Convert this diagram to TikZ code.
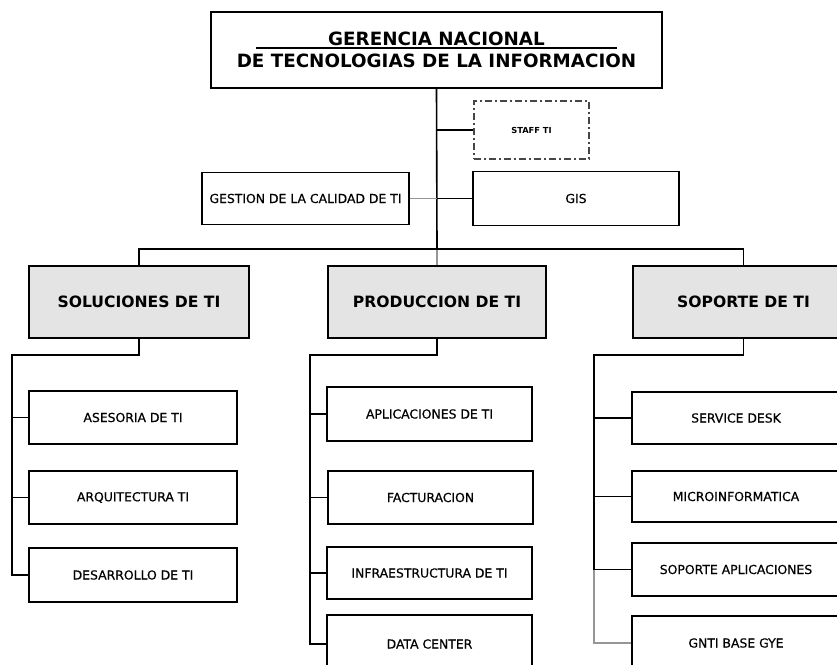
\documentclass[tikz,border=0pt]{standalone}
\usepackage{fontspec}
\setmainfont{DejaVu Sans}
\newfontfamily\unitfont[FakeBold=0.5]{DejaVu Sans}
\definecolor{headgray}{RGB}{228,228,228}
\definecolor{linkgray}{RGB}{150,150,150}
\definecolor{dashgray}{RGB}{70,70,70}
% centred text with a rule underneath spanning a fixed width
\newcommand\ulinebar[2]{\makebox[#1][c]{#2}\llap{\rule[-3.3pt]{#1}{1.5pt}}}
\begin{document}
\begin{tikzpicture}[x=1pt,y=-1pt,
  box/.style={draw=black, line width=1.8pt, rectangle, inner sep=0pt,
              align=center, text=black},
  unit/.style={box, font=\unitfont\fontsize{12.4}{14}\selectfont},
  head/.style={box, fill=headgray, font=\bfseries\fontsize{15.6}{18}\selectfont},
  link/.style={draw=black, line width=1.6pt},
  faint/.style={draw=linkgray, line width=1.6pt},
  wh/.style 2 args={minimum width=#1pt, minimum height=#2pt}
]
\useasboundingbox (0,0) rectangle (837,664);
\clip (0,0) rectangle (837,664);

% top management
\node[box, wh={451}{76}, font=\bfseries\fontsize{18.3}{22}\selectfont]
  (gen) at (436.5,50)
  {\ulinebar{361pt}{GERENCIA NACIONAL}\\DE TECNOLOGIAS DE LA INFORMACION};

% staff and support units
\node[box, wh={115}{58}, draw=dashgray,
      dash pattern=on 7pt off 3pt on 2pt off 3pt,
      font=\bfseries\fontsize{8.3}{9}\selectfont]
  (staff) at (531.5,130) {STAFF TI};
\node[unit, wh={207}{52}] (ges) at (305.5,198.5) {GESTION DE LA CALIDAD DE TI};
\node[unit, wh={206}{54}] (gis) at (576,198.5) {GIS};

% main areas
\node[head, wh={220}{72}] (sol)  at (139,302)   {SOLUCIONES DE TI};
\node[head, wh={218}{72}] (prod) at (437,302)   {PRODUCCION DE TI};
\node[head, wh={221}{72}] (sop)  at (743.5,302) {SOPORTE DE TI};

% soluciones
\node[unit, wh={208}{53}] (ase) at (133,417.5) {ASESORIA DE TI};
\node[unit, wh={208}{53}] (arq) at (133,497.5) {ARQUITECTURA TI};
\node[unit, wh={208}{54}] (des) at (133,575)   {DESARROLLO DE TI};

% produccion
\node[unit, wh={205}{54}] (apl) at (429.5,414)   {APLICACIONES DE TI};
\node[unit, wh={205}{53}] (fac) at (430.5,497.5) {FACTURACION};
\node[unit, wh={205}{52}] (inf) at (429.5,573)   {INFRAESTRUCTURA DE TI};
\node[unit, wh={205}{58}] (dat) at (429.5,644)   {DATA CENTER};

% soporte
\node[unit, wh={208}{52}] (ser) at (736,418)   {SERVICE DESK};
\node[unit, wh={208}{51}] (mic) at (736,496.5) {MICROINFORMATICA};
\node[unit, wh={208}{53}] (sap) at (736,569.5) {SOPORTE APLICACIONES};
\node[unit, wh={208}{54}] (gnt) at (736,643)   {GNTI BASE GYE};

% trunk and first level
\coordinate (hub) at (437,249);
\draw[link] (gen.south) -- (hub);
\draw[faint] (hub) -- (prod.north);
\draw[link] (staff.west) -- (hub |- staff.west);
\draw[link] (gis.west) -- (hub |- gis.west);
\draw[faint] (ges.east) -- (hub |- ges.east);
\draw[link] (sol.north) |- (hub) -| (sop.north);

% soluciones bus
\coordinate (solbus) at (12,355);
\draw[link] (sol.south) |- (solbus) |- (des.west);
\draw[link] (solbus |- ase.west) -- (ase.west);
\draw[link] (solbus |- arq.west) -- (arq.west);

% produccion bus
\coordinate (prodbus) at (310,355);
\draw[link] (prod.south) |- (prodbus) |- (dat.west);
\draw[link] (prodbus |- apl.west) -- (apl.west);
\draw[link] (prodbus |- fac.west) -- (fac.west);
\draw[link] (prodbus |- inf.west) -- (inf.west);

% soporte bus
\coordinate (sopbus) at (594,355);
\draw[link] (sop.south) |- (sopbus) |- (sap.west);
\draw[link] (sopbus |- ser.west) -- (ser.west);
\draw[link] (sopbus |- mic.west) -- (mic.west);
\draw[faint] (sopbus |- sap.west) |- (gnt.west);
\end{tikzpicture}
\end{document}
